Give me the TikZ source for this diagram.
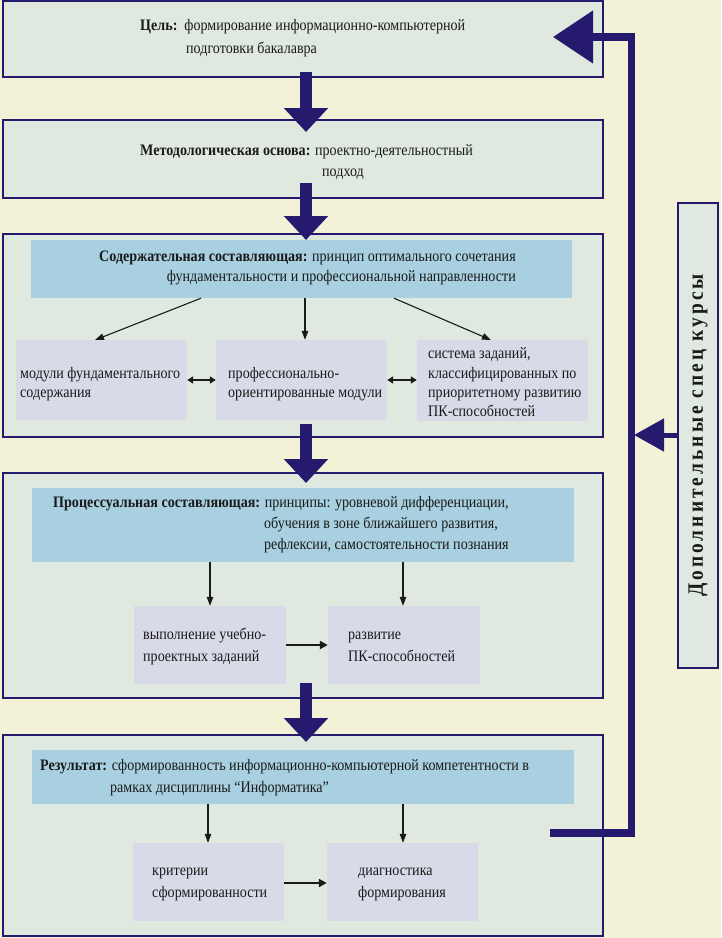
\documentclass[tikz,border=0pt]{standalone}
\usepackage{fontspec}
\setmainfont{Liberation Serif}[FakeStretch=0.88]
\usetikzlibrary{arrows.meta,fit}
\definecolor{cream}{HTML}{F4F2D6}
\definecolor{boxfill}{HTML}{DFE9DF}
\definecolor{hdr}{HTML}{A8D0E0}
\definecolor{subc}{HTML}{D9DAE8}
\definecolor{navy}{HTML}{261A6E}
\definecolor{ink}{HTML}{1A1A1A}
\tikzset{
  bigbox/.style={draw=navy, line width=1.8pt, fill=boxfill, inner sep=0pt},
  hdrbox/.style={fill=hdr, inner sep=0pt},
  subbox/.style={fill=subc, inner sep=0pt},
  sidebox/.style={draw=navy, line width=1.5pt, fill=boxfill, inner sep=0pt},
  txt/.style={anchor=base west, inner sep=0pt, text=ink, font=\fontsize{16}{19}\selectfont},
  txtr/.style={txt, anchor=base east},
  bigarrow/.style={draw=navy, line width=12pt, -{Triangle[width=43pt,length=24pt]}},
  thinarrow/.style={draw=ink, line width=1.1pt, -{Triangle[width=6.5pt,length=9pt]}},
  dblarrow/.style={draw=ink, line width=2pt, {Triangle[width=7pt,length=6pt]}-{Triangle[width=7pt,length=6pt]}},
  harrow/.style={draw=ink, line width=2pt, -{Triangle[width=8pt,length=8pt]}},
  sidearrow/.style={draw=navy, line width=7.5pt, line join=miter, -{Triangle[width=51pt,length=40pt]}},
  smallnavy/.style={draw=navy, line width=5pt, -{Triangle[width=32pt,length=30pt]}}
}
\begin{document}
\begin{tikzpicture}[x=1pt,y={(0pt,-1pt)}]
\useasboundingbox (0,0) rectangle (721,938);
\fill[cream] (0,0) rectangle (721,938);

% big boxes
\node[bigbox, fit={(3,1) (603,77)}] (b1) {};
\node[bigbox, fit={(3,120) (603,198)}] (b2) {};
\node[bigbox, fit={(3,234) (603,437)}] (b3) {};
\node[bigbox, fit={(3,473) (603,698)}] (b4) {};
\node[bigbox, fit={(3,735) (603,936)}] (b5) {};
\node[sidebox, fit={(678,203) (718,668)}] (side) {};

% headers
\node[hdrbox, fit={(31,240) (572,298)}] (h3) {};
\node[hdrbox, fit={(32,488) (574,562)}] (h4) {};
\node[hdrbox, fit={(32,750) (574,804)}] (h5) {};

% sub boxes
\node[subbox, fit={(16,340) (187,420)}] (s31) {};
\node[subbox, fit={(216,340) (387,420)}] (s32) {};
\node[subbox, fit={(417,340) (588,421)}] (s33) {};
\node[subbox, fit={(134,606) (286,684)}] (s41) {};
\node[subbox, fit={(328,606) (480,684)}] (s42) {};
\node[subbox, fit={(133,843) (284,921)}] (s51) {};
\node[subbox, fit={(327,843) (478,921)}] (s52) {};

% texts
\node[txt] (t1a) at (140,30) {\textbf{Цель:}\hspace{7pt}формирование информационно-компьютерной};
\node[txt] (t1b) at (186,53) {подготовки бакалавра};
\node[txt] (t2a) at (140,155) {\textbf{Методологическая основа:} проектно-деятельностный};
\node[txt] (t2b) at (322,176) {подход};
\node[txt] (t3a) at (99,261) {\textbf{Содержательная составляющая:} принцип оптимального сочетания};
\node[txtr] (t3b) at (516,281) {фундаментальности и профессиональной направленности};
\node[txt] (t31a) at (20,378) {модули фундаментального};
\node[txt] (t31b) at (20,397) {содержания};
\node[txt] (t32a) at (228,378) {профессионально-};
\node[txt] (t32b) at (228,397) {ориентированные модули};
\node[txt] (t33a) at (428,358) {система заданий,};
\node[txt] (t33b) at (428,378) {классифицированных по};
\node[txt] (t33c) at (428,397) {приоритетному развитию};
\node[txt] (t33d) at (428,416) {ПК-способностей};
\node[txt] (t4a) at (53,507) {\textbf{Процессуальная составляющая:} принципы: уровневой дифференциации,};
\node[txt] (t4b) at (264,528) {обучения в зоне ближайшего развития,};
\node[txt] (t4c) at (264,549) {рефлексии, самостоятельности познания};
\node[txt] (t41a) at (143,639) {выполнение учебно-};
\node[txt] (t41b) at (143,661) {проектных заданий};
\node[txt] (t42a) at (348,639) {развитие};
\node[txt] (t42b) at (348,661) {ПК-способностей};
\node[txt] (t5a) at (40,770) {\textbf{Результат:} сформированность информационно-компьютерной компетентности в};
\node[txt] (t5b) at (110,792) {рамках дисциплины “Информатика”};
\node[txt] (t51a) at (152,875) {критерии};
\node[txt] (t51b) at (152,897) {сформированности};
\node[txt] (t52a) at (358,875) {диагностика};
\node[txt] (t52b) at (358,897) {формирования};
\node[rotate=90, inner sep=0pt, text=ink, font=\fontsize{22}{26}\selectfont\bfseries\addfontfeatures{LetterSpace=14}] (tside) at (side.center) {Дополнительные спец курсы};

% thin connectors
\draw[thinarrow] (h3.south -| 201,0) -- (95,340);
\draw[thinarrow] (h3.south -| 305,0) -- (s32.north -| 305,0);
\draw[thinarrow] (h3.south -| 394,0) -- (491,340);
\draw[dblarrow] (s31.east |- 0,380) -- (s32.west |- 0,380);
\draw[dblarrow] (s32.east |- 0,380) -- (s33.west |- 0,380);
\draw[thinarrow] (h4.south -| 210,0) -- (s41.north -| 210,0);
\draw[thinarrow] (h4.south -| 403,0) -- (s42.north -| 403,0);
\draw[harrow] (s41.east |- 0,645) -- (s42.west |- 0,645);
\draw[thinarrow] (h5.south -| 208,0) -- (s51.north -| 208,0);
\draw[thinarrow] (h5.south -| 403,0) -- (s52.north -| 403,0);
\draw[harrow] (s51.east |- 0,883) -- (s52.west |- 0,883);

% big arrows
\draw[bigarrow] (306,72) -- (306,132);
\draw[bigarrow] (306,183) -- (306,240);
\draw[bigarrow] (306,424) -- (306,483);
\draw[bigarrow] (306,683) -- (306,742);

% feedback loop
\coordinate (fbs) at (550,833);
\coordinate (fbc1) at (631.5,833);
\coordinate (fbc2) at (631.5,37);
\coordinate (fbe) at (553,37);
\draw[sidearrow] (fbs) -- (fbc1) -- (fbc2) -- (fbe);
\draw[smallnavy] (side.west |- 0,435) -- (634,435);
\end{tikzpicture}
\end{document}
